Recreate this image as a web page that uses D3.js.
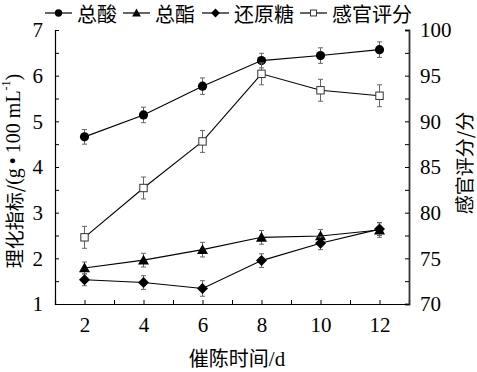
<!DOCTYPE html>
<html lang="en">
<head>
<meta charset="UTF-8">
<script src="https://d3js.org/d3.v7.min.js"></script>
<style>
  * { margin: 0; padding: 0; }
  body { background: #fff; width: 477px; height: 372px; overflow: hidden; }
  svg { display: block; }
  .serif { font-family: 'Liberation Serif' !important; }
  .cjk { font-family: 'Noto Sans CJK SC' !important; }
</style>
</head>
<body>
<script>
  // data
  const days = [2, 4, 6, 8, 10, 12];
  const acid = [4.66, 5.14, 5.77, 6.33, 6.44, 6.57];
  const acidErr = [0.16, 0.17, 0.18, 0.16, 0.17, 0.17];
  const ester = [1.79, 1.96, 2.19, 2.46, 2.49, 2.62];
  const esterErr = [0.13, 0.15, 0.16, 0.15, 0.14, 0.16];
  const sugar = [1.53, 1.47, 1.34, 1.95, 2.33, 2.64];
  const sugarErr = [0.13, 0.15, 0.17, 0.15, 0.14, 0.14];
  const sensory = [77.3, 82.7, 87.8, 95.2, 93.4, 92.8];
  const sensoryErr = [1.2, 1.2, 1.2, 1.2, 1.2, 1.2];

  const xTicks = [2, 4, 6, 8, 10, 12];
  const leftTicks = [1, 2, 3, 4, 5, 6, 7];
  const rightTicks = [70, 75, 80, 85, 90, 95, 100];

  const w = 477, h = 372;
  const mLeft = 55, mRight = 409, mTop = 30, mBottom = 304;

  const svg = d3.select('body').append('svg')
    .attr('width', w)
    .attr('height', h);

  const x = d3.scaleLinear().domain([1, 13]).range([mLeft, mRight]);
  const yL = d3.scaleLinear().domain([1, 7]).range([mBottom, mTop]);
  const yR = d3.scaleLinear().domain([70, 100]).range([mBottom, mTop]);

  // axes, ticks pointing inward
  const xAxis = d3.axisBottom(x)
    .tickValues(d3.range(1, 14))
    .tickSize(-4)
    .tickPadding(13)
    .tickFormat(d => xTicks.includes(d) ? d : '');
  svg.append('g').attr('class', 'x-axis')
    .attr('transform', 'translate(0,' + mBottom + ')')
    .call(xAxis);

  const lAxis = d3.axisLeft(yL)
    .tickValues(d3.range(1, 7.01, 0.5))
    .tickSize(-4)
    .tickPadding(12)
    .tickFormat(d => leftTicks.includes(d) ? d : '');
  svg.append('g').attr('class', 'y-left')
    .attr('transform', 'translate(' + mLeft + ',0)')
    .call(lAxis);

  const rAxis = d3.axisRight(yR)
    .tickValues(d3.range(70, 100.01, 2.5))
    .tickSize(-4)
    .tickPadding(11)
    .tickFormat(d => rightTicks.includes(d) ? d : '');
  svg.append('g').attr('class', 'y-right')
    .attr('transform', 'translate(' + mRight + ',0)')
    .call(rAxis);

  svg.selectAll('.x-axis, .y-left, .y-right')
    .attr('font-family', 'Liberation Serif')
    .attr('font-size', 21);
  svg.selectAll('.domain').attr('stroke', '#000').attr('stroke-width', 1.2);
  svg.selectAll('.tick line').attr('stroke', '#000');
  svg.selectAll('.tick text')
    .attr('class', 'serif')
    .attr('fill', '#000');
  svg.select('.y-right .domain').attr('stroke', '#333').attr('stroke-width', 1.8);

  // axis titles
  const xTitle = svg.append('text')
    .attr('x', (mLeft + mRight) / 2 + 5)
    .attr('y', 366)
    .attr('font-size', 20)
    .attr('text-anchor', 'middle');
  xTitle.append('tspan').attr('class', 'cjk').text('催陈时间');
  xTitle.append('tspan').attr('class', 'serif').attr('font-size', 21).text('/d');

  const yTitle = svg.append('text')
    .attr('transform', 'translate(13,171) rotate(-90)')
    .attr('dominant-baseline', 'central')
    .attr('text-anchor', 'middle');
  yTitle.append('tspan').attr('class', 'cjk').attr('font-size', 19).text('理化指标/');
  yTitle.append('tspan').attr('class', 'serif').attr('font-size', 20).text('(g\u2009•\u2009100 mL');
  yTitle.append('tspan').attr('class', 'serif').attr('font-size', 12).attr('dy', -7).text('-1');
  yTitle.append('tspan').attr('class', 'serif').attr('font-size', 20).attr('dy', 7).text(')');

  svg.append('text').attr('class', 'cjk')
    .attr('font-size', 19)
    .attr('transform', 'translate(463,163) rotate(-90)')
    .attr('dominant-baseline', 'central')
    .attr('text-anchor', 'middle')
    .text('感官评分/分');

  const series = [
    { name: '总酸', vals: acid, err: acidErr, y: yL, shape: 'circle' },
    { name: '总酯', vals: ester, err: esterErr, y: yL, shape: 'triangle' },
    { name: '还原糖', vals: sugar, err: sugarErr, y: yL, shape: 'diamond' },
    { name: '感官评分', vals: sensory, err: sensoryErr, y: yR, shape: 'square' }
  ];

  function marker(g, shape, cx, cy, small) {
    const k = small ? 0.8 : 1;
    if (shape === 'circle') {
      g.append('circle').attr('cx', cx).attr('cy', cy).attr('r', 4.6 * k).attr('fill', '#000');
    } else if (shape === 'triangle') {
      const s = 5.5 * k;
      g.append('path')
        .attr('d', `M${cx},${cy - s} L${cx + s},${cy + s * 0.8} L${cx - s},${cy + s * 0.8} Z`)
        .attr('fill', '#000');
    } else if (shape === 'diamond') {
      const s = 5.5 * k;
      g.append('path')
        .attr('d', `M${cx},${cy - s} L${cx + s},${cy} L${cx},${cy + s} L${cx - s},${cy} Z`)
        .attr('fill', '#000');
    } else {
      const s = 3.7 * k;
      g.append('rect').attr('x', cx - s).attr('y', cy - s)
        .attr('width', 2 * s).attr('height', 2 * s)
        .attr('fill', '#fff').attr('stroke', '#333').attr('stroke-width', 1);
    }
  }

  const plot = svg.append('g');

  series.forEach(s => {
    const g = plot.append('g');
    const pts = days.map((d, i) => ({ d: d, v: s.vals[i], e: s.err[i] }));

    // error bars
    pts.forEach(p => {
      const x0 = x(p.d), y1 = s.y(p.v + p.e), y2 = s.y(p.v - p.e);
      g.append('line').attr('x1', x0).attr('x2', x0).attr('y1', y1).attr('y2', y2)
        .attr('stroke', '#666').attr('stroke-width', 1);
      [y1, y2].forEach(yy => {
        g.append('line').attr('x1', x0 - 2.5).attr('x2', x0 + 2.5).attr('y1', yy).attr('y2', yy)
          .attr('stroke', '#666').attr('stroke-width', 1);
      });
    });

    g.append('path')
      .datum(pts)
      .attr('fill', 'none')
      .attr('stroke', '#000')
      .attr('stroke-width', 1.1)
      .attr('d', d3.line().x(p => x(p.d)).y(p => s.y(p.v)));

    pts.forEach(p => marker(g, s.shape, x(p.d), s.y(p.v), false));
  });

  // legend
  const legendX = [45, 123, 202, 300];
  const legend = svg.append('g');
  series.forEach((s, i) => {
    const lx = legendX[i], ly = 13;
    legend.append('line').attr('x1', lx).attr('x2', lx + 27).attr('y1', ly).attr('y2', ly)
      .attr('stroke', '#000').attr('stroke-width', 1.2);
    marker(legend, s.shape, lx + 13.5, ly, true);
    legend.append('text').attr('class', 'cjk')
      .attr('font-size', 20)
      .attr('dominant-baseline', 'central')
      .attr('x', lx + 32).attr('y', ly)
      .text(s.name);
  });
</script>
</body>
</html>
